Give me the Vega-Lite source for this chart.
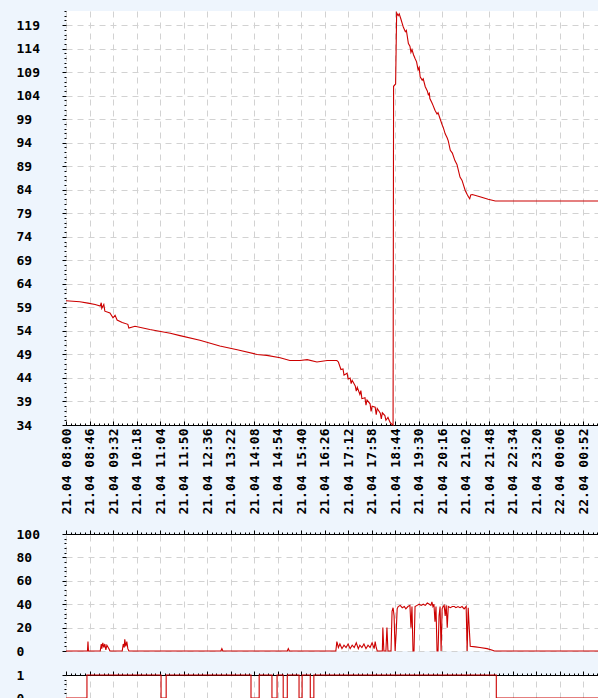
{
  "$schema": "https://vega.github.io/schema/vega-lite/v6.json",
  "background": "#eef5fd",
  "padding": {"left": 16, "top": 5, "right": 0, "bottom": 0},
  "config": {
    "view": {"stroke": null, "fill": "white"},
    "axis": {
      "labelFont": "DejaVu Sans Mono",
      "labelFontWeight": "bold",
      "labelFontSize": 13,
      "labelColor": "#000000",
      "tickColor": "#000000",
      "domainColor": "#000000",
      "gridColor": "#d2d2d2",
      "gridDash": [6, 5],
      "gridWidth": 1,
      "labelOverlap": false,
      "labelFlush": false,
      "labelBound": false
    }
  },
  "datasets": {
    "temp": [
      {"t": 0, "v": 60.4}, {"t": 27, "v": 60.2}, {"t": 43, "v": 59.9}, {"t": 57, "v": 59.6},
      {"t": 67, "v": 59.3}, {"t": 69, "v": 60.0}, {"t": 70, "v": 58.8}, {"t": 74, "v": 59.6},
      {"t": 76, "v": 58.2}, {"t": 86, "v": 57.8}, {"t": 92, "v": 56.8}, {"t": 96, "v": 57.3},
      {"t": 100, "v": 56.3}, {"t": 110, "v": 55.8}, {"t": 121, "v": 55.4}, {"t": 123, "v": 54.6},
      {"t": 135, "v": 55.0}, {"t": 164, "v": 54.3}, {"t": 204, "v": 53.5}, {"t": 223, "v": 53.0},
      {"t": 262, "v": 52.0}, {"t": 301, "v": 50.8}, {"t": 335, "v": 50.0}, {"t": 374, "v": 49.0},
      {"t": 393, "v": 48.8}, {"t": 419, "v": 48.3}, {"t": 438, "v": 47.7}, {"t": 458, "v": 47.7},
      {"t": 472, "v": 47.9}, {"t": 491, "v": 47.4}, {"t": 511, "v": 47.7}, {"t": 530, "v": 47.7},
      {"t": 533, "v": 47.4}, {"t": 538, "v": 45.8}, {"t": 542, "v": 45.9}, {"t": 544, "v": 44.6},
      {"t": 550, "v": 45.0}, {"t": 552, "v": 43.8}, {"t": 556, "v": 44.0}, {"t": 558, "v": 42.8},
      {"t": 560, "v": 43.5}, {"t": 566, "v": 42.3}, {"t": 568, "v": 41.2}, {"t": 570, "v": 42.0},
      {"t": 575, "v": 40.5}, {"t": 577, "v": 41.3}, {"t": 579, "v": 39.6}, {"t": 585, "v": 39.8},
      {"t": 587, "v": 38.2}, {"t": 589, "v": 39.3}, {"t": 595, "v": 38.5}, {"t": 597, "v": 36.9},
      {"t": 599, "v": 38.0}, {"t": 605, "v": 37.8}, {"t": 607, "v": 36.2}, {"t": 609, "v": 37.5},
      {"t": 615, "v": 36.5}, {"t": 617, "v": 35.3}, {"t": 619, "v": 36.6}, {"t": 624, "v": 36.0},
      {"t": 626, "v": 35.0}, {"t": 630, "v": 35.6}, {"t": 634, "v": 34.6}, {"t": 637, "v": 34.2},
      {"t": 640, "v": 34.0}, {"t": 641, "v": 106.0}, {"t": 645, "v": 106.5}, {"t": 647, "v": 121.6},
      {"t": 650, "v": 121.0}, {"t": 652, "v": 121.4}, {"t": 655, "v": 120.4}, {"t": 658, "v": 119.3},
      {"t": 660, "v": 118.6}, {"t": 664, "v": 117.6}, {"t": 666, "v": 117.9}, {"t": 670, "v": 115.1},
      {"t": 673, "v": 114.5}, {"t": 675, "v": 113.2}, {"t": 677, "v": 113.8}, {"t": 680, "v": 112.7},
      {"t": 683, "v": 111.9}, {"t": 686, "v": 111.2}, {"t": 689, "v": 109.5}, {"t": 691, "v": 110.0},
      {"t": 693, "v": 108.0}, {"t": 697, "v": 107.3}, {"t": 699, "v": 107.6}, {"t": 703, "v": 105.9},
      {"t": 707, "v": 105.0}, {"t": 709, "v": 104.2}, {"t": 711, "v": 104.5}, {"t": 712, "v": 103.4},
      {"t": 716, "v": 102.5}, {"t": 718, "v": 102.0}, {"t": 722, "v": 100.9}, {"t": 726, "v": 100.1},
      {"t": 728, "v": 100.4}, {"t": 732, "v": 99.1}, {"t": 736, "v": 97.8}, {"t": 738, "v": 97.3},
      {"t": 742, "v": 95.9}, {"t": 746, "v": 95.0}, {"t": 748, "v": 94.4}, {"t": 752, "v": 92.4},
      {"t": 756, "v": 91.8}, {"t": 761, "v": 90.2}, {"t": 765, "v": 89.4}, {"t": 771, "v": 86.7},
      {"t": 775, "v": 86.0}, {"t": 781, "v": 83.9}, {"t": 785, "v": 83.0}, {"t": 788, "v": 82.4},
      {"t": 790, "v": 82.1}, {"t": 792, "v": 82.9}, {"t": 795, "v": 83.0}, {"t": 810, "v": 82.5},
      {"t": 826, "v": 82.0}, {"t": 840, "v": 81.6}, {"t": 1041, "v": 81.6}
    ],
    "power": [
      {"t": 0, "v": 0}, {"t": 42, "v": 0}, {"t": 43, "v": 8}, {"t": 44, "v": 0},
      {"t": 67, "v": 0}, {"t": 69, "v": 6}, {"t": 70, "v": 2}, {"t": 72, "v": 7}, {"t": 74, "v": 3},
      {"t": 76, "v": 6}, {"t": 78, "v": 1}, {"t": 80, "v": 5}, {"t": 84, "v": 2}, {"t": 86, "v": 0},
      {"t": 110, "v": 0}, {"t": 112, "v": 6}, {"t": 114, "v": 3}, {"t": 115, "v": 10}, {"t": 117, "v": 4},
      {"t": 119, "v": 8}, {"t": 121, "v": 2}, {"t": 123, "v": 0},
      {"t": 303, "v": 0}, {"t": 305, "v": 2}, {"t": 307, "v": 0},
      {"t": 433, "v": 0}, {"t": 435, "v": 2}, {"t": 437, "v": 0},
      {"t": 528, "v": 0}, {"t": 530, "v": 8}, {"t": 533, "v": 3}, {"t": 536, "v": 6}, {"t": 540, "v": 2},
      {"t": 544, "v": 5}, {"t": 548, "v": 3}, {"t": 552, "v": 6}, {"t": 556, "v": 2}, {"t": 560, "v": 5},
      {"t": 564, "v": 3}, {"t": 568, "v": 7}, {"t": 572, "v": 2}, {"t": 575, "v": 5}, {"t": 579, "v": 3},
      {"t": 583, "v": 6}, {"t": 587, "v": 2}, {"t": 591, "v": 5}, {"t": 595, "v": 3}, {"t": 599, "v": 7},
      {"t": 603, "v": 2}, {"t": 605, "v": 8}, {"t": 607, "v": 3}, {"t": 609, "v": 0},
      {"t": 619, "v": 0}, {"t": 620, "v": 20}, {"t": 622, "v": 0}, {"t": 626, "v": 0}, {"t": 628, "v": 20},
      {"t": 630, "v": 0}, {"t": 636, "v": 0}, {"t": 638, "v": 34}, {"t": 640, "v": 37}, {"t": 642, "v": 30},
      {"t": 644, "v": 0}, {"t": 646, "v": 15}, {"t": 648, "v": 36}, {"t": 650, "v": 38}, {"t": 654, "v": 39},
      {"t": 658, "v": 37}, {"t": 662, "v": 38}, {"t": 665, "v": 36}, {"t": 669, "v": 38}, {"t": 673, "v": 39},
      {"t": 675, "v": 20}, {"t": 677, "v": 38}, {"t": 679, "v": 0}, {"t": 681, "v": 0}, {"t": 683, "v": 38},
      {"t": 687, "v": 39}, {"t": 691, "v": 40}, {"t": 695, "v": 39}, {"t": 699, "v": 40}, {"t": 703, "v": 39},
      {"t": 707, "v": 41}, {"t": 711, "v": 40}, {"t": 714, "v": 39}, {"t": 716, "v": 42}, {"t": 718, "v": 38},
      {"t": 720, "v": 40}, {"t": 722, "v": 25}, {"t": 724, "v": 38}, {"t": 726, "v": 0}, {"t": 728, "v": 0},
      {"t": 730, "v": 30}, {"t": 732, "v": 38}, {"t": 734, "v": 0}, {"t": 736, "v": 36}, {"t": 738, "v": 38},
      {"t": 740, "v": 39}, {"t": 742, "v": 30}, {"t": 744, "v": 39}, {"t": 746, "v": 20}, {"t": 748, "v": 38},
      {"t": 752, "v": 37}, {"t": 756, "v": 38}, {"t": 760, "v": 38}, {"t": 763, "v": 37}, {"t": 767, "v": 38},
      {"t": 771, "v": 37}, {"t": 775, "v": 38}, {"t": 779, "v": 36}, {"t": 783, "v": 38}, {"t": 785, "v": 0},
      {"t": 787, "v": 37}, {"t": 789, "v": 20}, {"t": 791, "v": 4}, {"t": 801, "v": 3.5}, {"t": 810, "v": 3},
      {"t": 824, "v": 2}, {"t": 836, "v": 0.5}, {"t": 838, "v": 0}, {"t": 1041, "v": 0}
    ],
    "state": [
      {"t": 0, "v": 0}, {"t": 41, "v": 1}, {"t": 186, "v": 0}, {"t": 196, "v": 1}, {"t": 362, "v": 0},
      {"t": 378, "v": 1}, {"t": 403, "v": 0}, {"t": 413, "v": 1}, {"t": 425, "v": 0}, {"t": 433, "v": 1},
      {"t": 456, "v": 0}, {"t": 462, "v": 1}, {"t": 478, "v": 0}, {"t": 485, "v": 1}, {"t": 842, "v": 0},
      {"t": 1041, "v": 0}
    ]
  },
  "spacing": 13,
  "vconcat": [
    {
      "width": 532,
      "height": 414,
      "data": {"name": "temp"},
      "mark": {"type": "line", "color": "#cc0000", "strokeWidth": 1.1},
      "encoding": {
        "x": {
          "field": "t", "type": "quantitative", "title": null,
          "scale": {"domain": [0, 1041], "nice": false, "zero": false},
          "axis": {
            "orient": "bottom",
            "values": [0,9.2,18.4,27.6,36.8,46,55.2,64.4,73.6,82.8,92,101.2,110.4,119.6,128.8,138,147.2,156.4,165.6,174.8,184,193.2,202.4,211.6,220.8,230,239.2,248.4,257.6,266.8,276,285.2,294.4,303.6,312.8,322,331.2,340.4,349.6,358.8,368,377.2,386.4,395.6,404.8,414,423.2,432.4,441.6,450.8,460,469.2,478.4,487.6,496.8,506,515.2,524.4,533.6,542.8,552,561.2,570.4,579.6,588.8,598,607.2,616.4,625.6,634.8,644,653.2,662.4,671.6,680.8,690,699.2,708.4,717.6,726.8,736,745.2,754.4,763.6,772.8,782,791.2,800.4,809.6,818.8,828,837.2,846.4,855.6,864.8,874,883.2,892.4,901.6,910.8,920,929.2,938.4,947.6,956.8,966,975.2,984.4,993.6,1002.8,1012,1021.2,1030.4,1039.6],
            "labelExpr": "abs(datum.value - 46*round(datum.value/46)) < 0.5 ? timeFormat(datetime(2023, 3, 21, 8, round(datum.value)), '%d.%m %H:%M') : ''",
            "labelAngle": 270,
            "labelPadding": 7,
            "tickSize": {"condition": {"test": "abs(datum.value - 46*round(datum.value/46)) < 0.5", "value": -4}, "value": -2},
            "gridOpacity": {"condition": {"test": "abs(datum.value - 46*round(datum.value/46)) < 0.5", "value": 1}, "value": 0}
          }
        },
        "y": {
          "field": "v", "type": "quantitative", "title": null,
          "scale": {"domain": [34, 122], "nice": false, "zero": false},
          "axis": {
            "values": [34,35,36,37,38,39,40,41,42,43,44,45,46,47,48,49,50,51,52,53,54,55,56,57,58,59,60,61,62,63,64,65,66,67,68,69,70,71,72,73,74,75,76,77,78,79,80,81,82,83,84,85,86,87,88,89,90,91,92,93,94,95,96,97,98,99,100,101,102,103,104,105,106,107,108,109,110,111,112,113,114,115,116,117,118,119,120,121,122],
            "labelExpr": "(datum.value - 34) % 5 == 0 ? datum.label : ''",
            "domain": false,
            "labelAlign": "left",
            "labelPadding": 46,
            "tickSize": {"condition": {"test": "(datum.value - 34) % 5 == 0", "value": 4}, "value": 2},
            "gridOpacity": {"condition": {"test": "(datum.value - 34) % 5 == 0", "value": 1}, "value": 0}
          }
        }
      }
    },
    {
      "spacing": 11,
      "vconcat": [
        {
          "width": 532,
          "height": 117,
          "data": {"name": "power"},
          "mark": {"type": "line", "color": "#cc0000", "strokeWidth": 1.1},
          "encoding": {
            "x": {
              "field": "t", "type": "quantitative", "title": null,
              "scale": {"domain": [0, 1041], "nice": false, "zero": false},
              "axis": {
                "orient": "top",
                "labels": false,
                "values": [0,9.2,18.4,27.6,36.8,46,55.2,64.4,73.6,82.8,92,101.2,110.4,119.6,128.8,138,147.2,156.4,165.6,174.8,184,193.2,202.4,211.6,220.8,230,239.2,248.4,257.6,266.8,276,285.2,294.4,303.6,312.8,322,331.2,340.4,349.6,358.8,368,377.2,386.4,395.6,404.8,414,423.2,432.4,441.6,450.8,460,469.2,478.4,487.6,496.8,506,515.2,524.4,533.6,542.8,552,561.2,570.4,579.6,588.8,598,607.2,616.4,625.6,634.8,644,653.2,662.4,671.6,680.8,690,699.2,708.4,717.6,726.8,736,745.2,754.4,763.6,772.8,782,791.2,800.4,809.6,818.8,828,837.2,846.4,855.6,864.8,874,883.2,892.4,901.6,910.8,920,929.2,938.4,947.6,956.8,966,975.2,984.4,993.6,1002.8,1012,1021.2,1030.4,1039.6],
                "tickSize": {"condition": {"test": "abs(datum.value - 46*round(datum.value/46)) < 0.5", "value": 4}, "value": 2},
                "gridOpacity": {"condition": {"test": "abs(datum.value - 46*round(datum.value/46)) < 0.5", "value": 1}, "value": 0}
              }
            },
            "y": {
              "field": "v", "type": "quantitative", "title": null,
              "scale": {"domain": [0, 100], "nice": false, "zero": false},
              "axis": {
                "values": [0,4,8,12,16,20,24,28,32,36,40,44,48,52,56,60,64,68,72,76,80,84,88,92,96,100],
                "labelExpr": "datum.value % 20 == 0 ? datum.label : ''",
                "domain": false,
                "labelAlign": "left",
                "labelPadding": 46,
                "tickSize": {"condition": {"test": "datum.value % 20 == 0", "value": 4}, "value": 2},
                "gridOpacity": {"condition": {"test": "datum.value % 20 == 0", "value": 1}, "value": 0}
              }
            }
          }
        },
        {
          "width": 532,
          "height": 23,
          "data": {"name": "state"},
          "mark": {"type": "line", "color": "#cc0000", "strokeWidth": 1.1, "interpolate": "step-after"},
          "encoding": {
            "x": {
              "field": "t", "type": "quantitative", "title": null,
              "scale": {"domain": [0, 1041], "nice": false, "zero": false},
              "axis": {
                "orient": "top",
                "labels": false,
                "values": [0,9.2,18.4,27.6,36.8,46,55.2,64.4,73.6,82.8,92,101.2,110.4,119.6,128.8,138,147.2,156.4,165.6,174.8,184,193.2,202.4,211.6,220.8,230,239.2,248.4,257.6,266.8,276,285.2,294.4,303.6,312.8,322,331.2,340.4,349.6,358.8,368,377.2,386.4,395.6,404.8,414,423.2,432.4,441.6,450.8,460,469.2,478.4,487.6,496.8,506,515.2,524.4,533.6,542.8,552,561.2,570.4,579.6,588.8,598,607.2,616.4,625.6,634.8,644,653.2,662.4,671.6,680.8,690,699.2,708.4,717.6,726.8,736,745.2,754.4,763.6,772.8,782,791.2,800.4,809.6,818.8,828,837.2,846.4,855.6,864.8,874,883.2,892.4,901.6,910.8,920,929.2,938.4,947.6,956.8,966,975.2,984.4,993.6,1002.8,1012,1021.2,1030.4,1039.6],
                "tickSize": {"condition": {"test": "abs(datum.value - 46*round(datum.value/46)) < 0.5", "value": 4}, "value": 2},
                "gridOpacity": {"condition": {"test": "abs(datum.value - 46*round(datum.value/46)) < 0.5", "value": 1}, "value": 0}
              }
            },
            "y": {
              "field": "v", "type": "quantitative", "title": null,
              "scale": {"domain": [0, 1], "nice": false, "zero": false},
              "axis": {
                "values": [0, 0.2, 0.4, 0.6, 0.8, 1],
                "labelExpr": "datum.value == 0 ? '0' : (datum.value == 1 ? '1' : '')",
                "domain": false,
                "labelAlign": "left",
                "labelPadding": 46,
                "tickSize": {"condition": {"test": "datum.value == 0 || datum.value == 1", "value": 4}, "value": 2},
                "gridOpacity": {"condition": {"test": "datum.value == 0 || datum.value == 1", "value": 1}, "value": 0}
              }
            }
          }
        }
      ]
    }
  ]
}
